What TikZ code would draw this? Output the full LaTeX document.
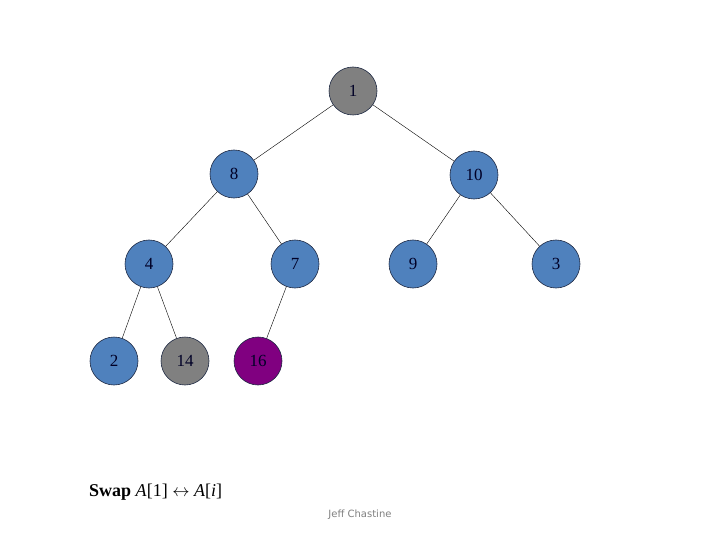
\documentclass[tikz,border=0pt]{standalone}
\usepackage{fontspec}
\setmainfont{Liberation Serif}
\newfontfamily\creditfont{DejaVu Sans}
\definecolor{nodeblue}{HTML}{4F81BD}
\definecolor{nodegray}{HTML}{808080}
\definecolor{nodepurple}{HTML}{800080}
\definecolor{rimcol}{HTML}{1F2A44}
\begin{document}
\begin{tikzpicture}[x=1pt,y=-1pt,
  heapnode/.style={circle, draw=rimcol, line width=0.6pt, minimum size=48pt, inner sep=0pt, font=\fontsize{17}{17}\selectfont, text=black!85!blue},
  bluenode/.style={heapnode, fill=nodeblue},
  graynode/.style={heapnode, fill=nodegray},
  purplenode/.style={heapnode, fill=nodepurple},
  edge/.style={draw=black, line width=0.4pt}]
\useasboundingbox (0,0) rectangle (720,540);
\node[graynode] (n1) at (353,91) {1};
\node[bluenode] (n8) at (234,174) {8};
\node[bluenode] (n10) at (474,175) {10};
\node[bluenode] (n4) at (149,264) {4};
\node[bluenode] (n7) at (295,264) {7};
\node[bluenode] (n9) at (413,264) {9};
\node[bluenode] (n3) at (556,264) {3};
\node[bluenode] (n2) at (114,361) {2};
\node[graynode] (n14) at (185,361) {14};
\node[purplenode] (n16) at (258,361) {16};
\draw[edge] (n1) -- (n8);
\draw[edge] (n1) -- (n10);
\draw[edge] (n8) -- (n4);
\draw[edge] (n8) -- (n7);
\draw[edge] (n10) -- (n9);
\draw[edge] (n10) -- (n3);
\draw[edge] (n4) -- (n2);
\draw[edge] (n4) -- (n14);
\draw[edge] (n7) -- (n16);
\node[anchor=west, inner sep=0pt, font=\fontsize{18}{18}\selectfont] (swap) at (89,492) {\textbf{Swap} \textit{A}[1] $\leftrightarrow$ \textit{A}[\textit{i}]};
\node[inner sep=0pt, font=\creditfont\fontsize{10}{10}\selectfont, text=black!50] (credit) at (360,515) {Jeff Chastine};
\end{tikzpicture}
\end{document}
